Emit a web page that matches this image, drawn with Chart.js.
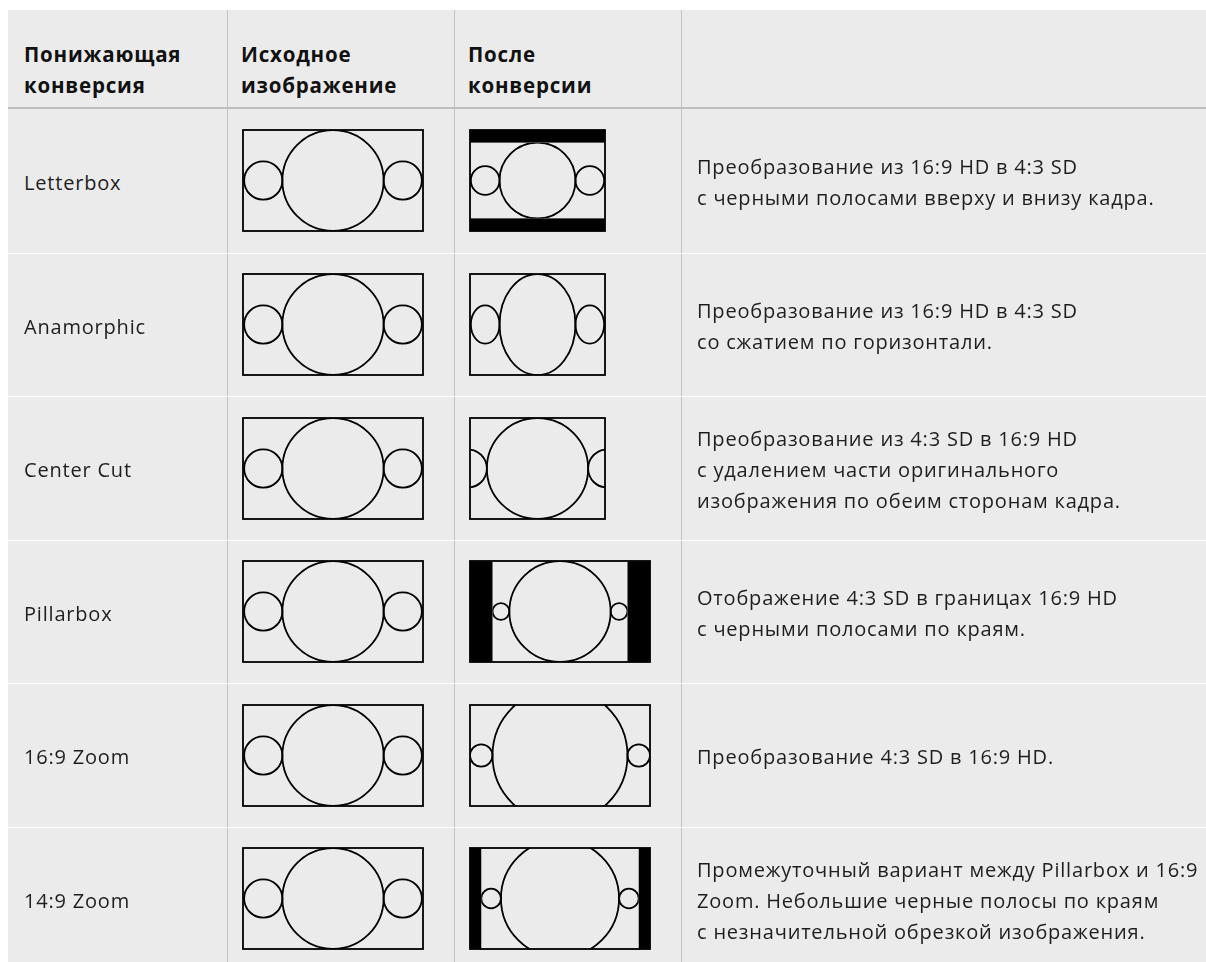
<!DOCTYPE html>
<html lang="ru">
<head>
<meta charset="utf-8">
<script src="https://cdn.jsdelivr.net/npm/chart.js@4.4.1/dist/chart.umd.min.js"></script>
<style>
  body { margin: 0; background: #fff; font-family: "Open Sans", sans-serif; color: #1e1e1e; }
  #table { position: absolute; left: 8px; top: 10px; width: 1198px; background: #ebebeb; }
  .row { display: flex; box-sizing: border-box; }
  .head { height: 99px; border-bottom: 2px solid #bdbdbd; }
  .body { height: 143.5px; }
  .body + .body { border-top: 1px solid #ffffff; }
  .cell { box-sizing: border-box; display: flex; align-items: center; border-right: 1px solid #c4c4c4; white-space: nowrap; }
  .c0 { width: 220px; padding-left: 16px; }
  .c1, .c2 { width: 227px; padding-left: 13px; }
  .c3 { flex: 1; padding-left: 15px; border-right: none; }
  .head .cell { align-items: flex-end; padding-bottom: 6px; font-weight: 700; font-size: 20.5px; letter-spacing: 0.8px; line-height: 31px; color: #111; }
  .body .cell { font-size: 20px; letter-spacing: 0.8px; line-height: 31px; padding-top: 3px; }
</style>
</head>
<body>
<div id="table"></div>
<script>
// column headers
const headers = ["Понижающая\nконверсия", "Исходное\nизображение", "После\nконверсии", ""];

// conversions, one row each
const conversions = ["Letterbox", "Anamorphic", "Center Cut", "Pillarbox", "16:9 Zoom", "14:9 Zoom"];
const descriptions = [
  "Преобразование из 16:9 HD в 4:3 SD\nс черными полосами вверху и внизу кадра.",
  "Преобразование из 16:9 HD в 4:3 SD\nсо сжатием по горизонтали.",
  "Преобразование из 4:3 SD в 16:9 HD\nс удалением части оригинального\nизображения по обеим сторонам кадра.",
  "Отображение 4:3 SD в границах 16:9 HD\nс черными полосами по краям.",
  "Преобразование 4:3 SD в 16:9 HD.",
  "Промежуточный вариант между Pillarbox и 16:9\nZoom. Небольшие черные полосы по краям\nс незначительной обрезкой изображения."
];

// output frame width (frame height is always 9 units)
const outputWidth = [12, 12, 12, 16, 16, 16];
// which picture goes into the output frame
const pictureUsed = ["HD", "HD", "HD", "SD", "SD", "SD"];
// where that picture lands inside the output frame (units)
const placeX = [0, 0, -2, 2, 0, 1];
const placeY = [1.125, 0, 0, 0, -1.5, -0.75];
const placeW = [12, 12, 16, 12, 16, 14];
const placeH = [6.75, 9, 9, 9, 12, 10.5];

// test pictures: circles (centre x, radius), all centred vertically at 4.5
const hdWidth = 16, sdWidth = 12, picHeight = 9;
const hdCircleX = [1.8, 8, 14.2];
const hdCircleR = [1.7, 4.5, 1.7];
const sdCircleX = [0.75, 6, 11.25];
const sdCircleR = [0.75, 4.5, 0.75];

const pictures = {
  HD: { w: hdWidth, xs: hdCircleX, rs: hdCircleR },
  SD: { w: sdWidth, xs: sdCircleX, rs: sdCircleR }
};

const BG = "#ebebeb";
const UNIT = 11.25;
const PAD = 2;

const diagramPlugin = {
  id: "diagram",
  afterDraw(chart, args, d) {
    const { ctx, chartArea: a, scales: { x, y } } = chart;
    const pic = pictures[d.pic];
    const sx = d.pw / pic.w, sy = d.ph / picHeight;
    ctx.save();
    ctx.beginPath();
    ctx.rect(a.left, a.top, a.width, a.height);
    ctx.clip();
    ctx.fillStyle = "#000";
    ctx.fillRect(a.left, a.top, a.width, a.height);
    const l = x.getPixelForValue(d.px), r = x.getPixelForValue(d.px + d.pw);
    const t = y.getPixelForValue(d.py), b = y.getPixelForValue(d.py + d.ph);
    ctx.fillStyle = BG;
    ctx.fillRect(l, t, r - l, b - t);
    ctx.beginPath();
    ctx.rect(l, t, r - l, b - t);
    ctx.clip();
    ctx.strokeStyle = "#000";
    ctx.lineWidth = 1.8;
    pic.xs.forEach((cx, i) => {
      const px = x.getPixelForValue(d.px + cx * sx);
      const py = y.getPixelForValue(d.py + 4.5 * sy);
      const rx = Math.abs(x.getPixelForValue(pic.rs[i] * sx) - x.getPixelForValue(0));
      const ry = Math.abs(y.getPixelForValue(pic.rs[i] * sy) - y.getPixelForValue(0));
      ctx.beginPath();
      ctx.ellipse(px, py, rx, ry, 0, 0, Math.PI * 2);
      ctx.stroke();
    });
    ctx.restore();
    ctx.save();
    ctx.strokeStyle = "#000";
    ctx.lineWidth = 1.8;
    ctx.strokeRect(a.left, a.top, a.width, a.height);
    ctx.restore();
  }
};

function diagram(parent, fw, opts) {
  const canvas = document.createElement("canvas");
  canvas.width = Math.round(fw * UNIT) + PAD * 2;
  canvas.height = Math.round(picHeight * UNIT) + PAD * 2;
  canvas.style.width = canvas.width + "px";
  canvas.style.height = canvas.height + "px";
  parent.appendChild(canvas);
  new Chart(canvas, {
    type: "scatter",
    data: { datasets: [] },
    options: {
      responsive: false,
      animation: false,
      layout: { padding: PAD },
      plugins: { legend: { display: false }, tooltip: { enabled: false }, diagram: opts },
      scales: {
        x: { type: "linear", min: 0, max: fw, display: false },
        y: { type: "linear", min: 0, max: picHeight, reverse: true, display: false }
      }
    },
    plugins: [diagramPlugin]
  });
}

function textCell(row, cls, text) {
  const c = document.createElement("div");
  c.className = "cell " + cls;
  const span = document.createElement("div");
  span.innerHTML = text.split("\n").join("<br>");
  c.appendChild(span);
  row.appendChild(c);
  return c;
}

const table = document.getElementById("table");
const head = document.createElement("div");
head.className = "row head";
headers.forEach((h, i) => textCell(head, "c" + i, h));
table.appendChild(head);

conversions.forEach((name, i) => {
  const row = document.createElement("div");
  row.className = "row body";
  textCell(row, "c0", name);
  const src = textCell(row, "c1", "");
  const out = textCell(row, "c2", "");
  src.style.paddingTop = "0";
  out.style.paddingTop = "0";
  textCell(row, "c3", descriptions[i]);
  table.appendChild(row);
  diagram(src, hdWidth, { pic: "HD", px: 0, py: 0, pw: hdWidth, ph: picHeight });
  diagram(out, outputWidth[i], { pic: pictureUsed[i], px: placeX[i], py: placeY[i], pw: placeW[i], ph: placeH[i] });
});
</script>
</body>
</html>
